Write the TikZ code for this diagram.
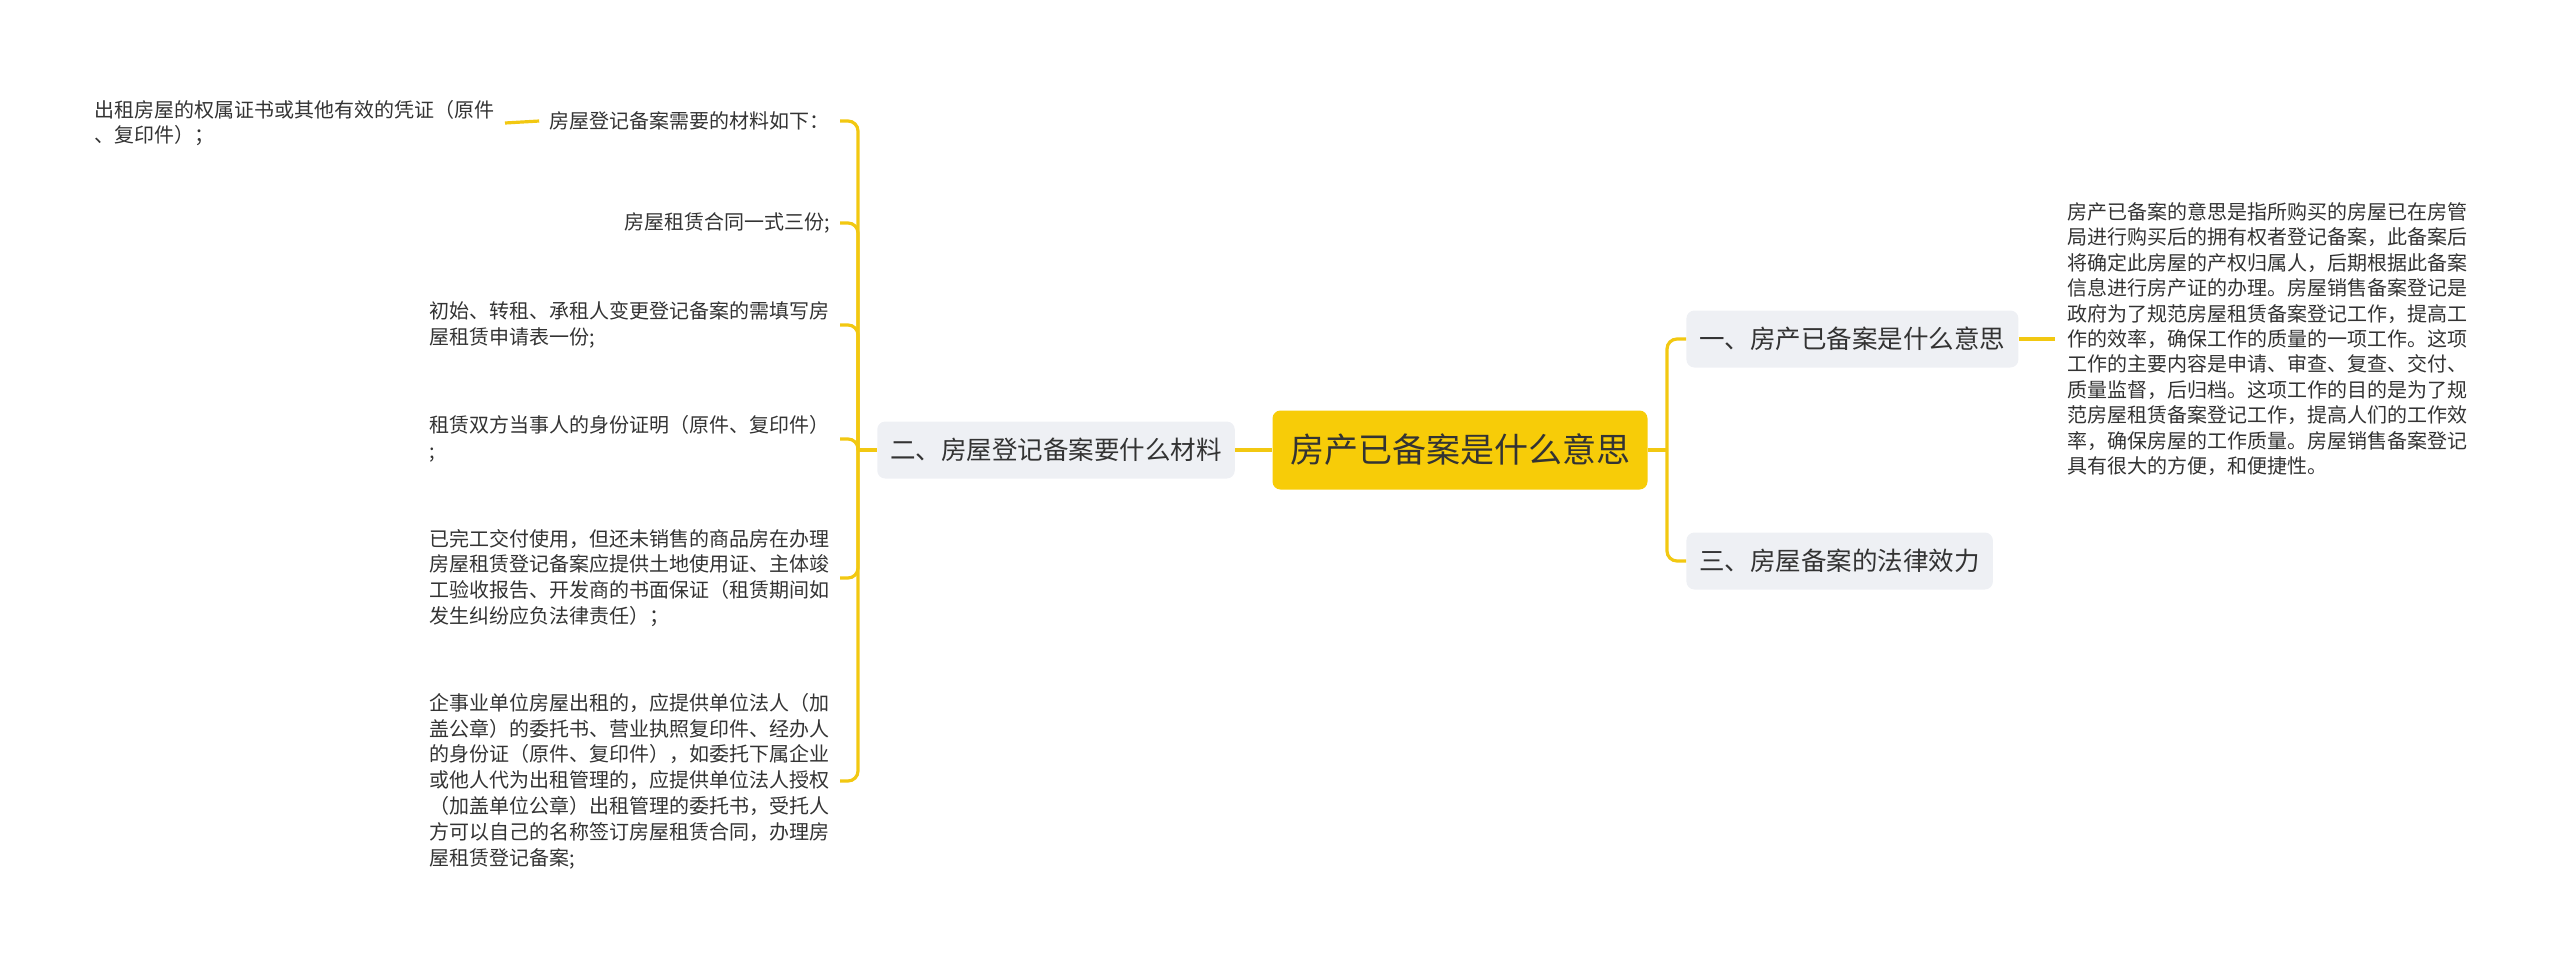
\documentclass[tikz,border=0pt]{standalone}
\usepackage{fontspec}
\setmainfont{Noto Sans CJK SC}
\definecolor{linkyellow}{HTML}{F2C811}
\definecolor{rootyellow}{HTML}{F7CC08}
\definecolor{boxgray}{HTML}{EEF0F4}
\definecolor{textgray}{HTML}{333333}
\begin{document}
\begin{tikzpicture}[x=0.5pt,y=-0.5pt,
	link/.style={draw=linkyellow,line width=1.6pt,rounded corners=5pt},
	rootbox/.style={fill=rootyellow,rounded corners=4pt,text=textgray,font=\fontsize{17}{20}\selectfont,minimum width=187.5pt,minimum height=39.5pt},
	branchbox/.style={fill=boxgray,rounded corners=4pt,text=textgray,font=\fontsize{12.75}{15}\selectfont,minimum height=28.5pt,inner xsep=6.5pt},
	leaf/.style={align=left,text=textgray,font=\fontsize{10}{12.9}\selectfont,inner xsep=5pt}]
\useasboundingbox (0,0) rectangle (2560,965);
		% centre and the three branches
		\node[rootbox] (root) at (1460,450) {房产已备案是什么意思};
    \node[branchbox] (mat) at (1056,450) {二、房屋登记备案要什么材料};
    \node[branchbox,anchor=west] (mean) at (1686,339) {一、房产已备案是什么意思};
    \node[branchbox,anchor=west] (law) at (1686,561) {三、房屋备案的法律效力};
		% right side
    \node[leaf,anchor=west,inner xsep=6pt,font=\fontsize{10}{12.7}\selectfont] (meantext) at (2055,339) {房产已备案的意思是指所购买的房屋已在房管\\局进行购买后的拥有权者登记备案，此备案后\\将确定此房屋的产权归属人，后期根据此备案\\信息进行房产证的办理。房屋销售备案登记是\\政府为了规范房屋租赁备案登记工作，提高工\\作的效率，确保工作的质量的一项工作。这项\\工作的主要内容是申请、审查、复查、交付、\\质量监督，后归档。这项工作的目的是为了规\\范房屋租赁备案登记工作，提高人们的工作效\\率，确保房屋的工作质量。房屋销售备案登记\\具有很大的方便，和便捷性。};
		% left side
    \node[leaf,anchor=east] (req) at (840,121) {房屋登记备案需要的材料如下：};
    \node[leaf,anchor=east] (reqdoc) at (505,123) {出租房屋的权属证书或其他有效的凭证（原件\\、复印件）；};
    \node[leaf,anchor=east] (lease) at (840,223) {房屋租赁合同一式三份;};
    \node[leaf,anchor=east] (apply) at (840,325) {初始、转租、承租人变更登记备案的需填写房\\屋租赁申请表一份;};
    \node[leaf,anchor=east] (ident) at (840,439) {租赁双方当事人的身份证明（原件、复印件）\\;};
    \node[leaf,anchor=east] (unsold) at (840,578) {已完工交付使用，但还未销售的商品房在办理\\房屋租赁登记备案应提供土地使用证、主体竣\\工验收报告、开发商的书面保证（租赁期间如\\发生纠纷应负法律责任）；};
    \node[leaf,anchor=east] (firm) at (840,781) {企事业单位房屋出租的，应提供单位法人（加\\盖公章）的委托书、营业执照复印件、经办人\\的身份证（原件、复印件），如委托下属企业\\或他人代为出租管理的，应提供单位法人授权\\（加盖单位公章）出租管理的委托书，受托人\\方可以自己的名称签订房屋租赁合同，办理房\\屋租赁登记备案;};
		% connectors
		\coordinate (lt) at (858,450);
		\coordinate (rt) at (1667,450);
		\draw[link] (root.west) -- (mat.east);
		\draw[link] (mat.west) -- (lt);
		\foreach \n in {req,lease,apply,ident,unsold,firm}
			\draw[link] (lt) |- (\n.east);
		\draw[link] (req.west) -- (reqdoc.east);
		\draw[link] (root.east) -- (rt);
		\foreach \n in {mean,law}
			\draw[link] (rt) |- (\n.west);
		\draw[link] (mean.east) -- (meantext.west);
\end{tikzpicture}
\end{document}
